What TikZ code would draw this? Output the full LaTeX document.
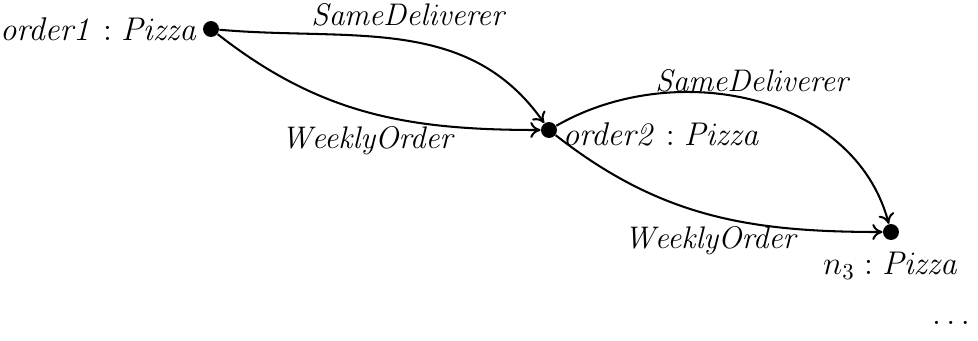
\RequirePackage{fix-cm}
\documentclass[tikz,border=0pt]{standalone}
\usetikzlibrary{arrows.meta}
\begin{document}
\begin{tikzpicture}[x=0.4386pt,y=-0.4386pt,
  obj/.style={circle,fill=black,inner sep=0pt,minimum size=7pt},
  rel/.style={-{Computer Modern Rightarrow[length=4.5pt,width=7pt]},line width=0.9pt},
  lbl/.style={font=\fontsize{14.4pt}{17pt}\selectfont},
  elbl/.style={font=\fontsize{13.7pt}{16pt}\selectfont}]
\useasboundingbox (0,0) rectangle (978,340);
% objects
\node[obj] (o1) at (211,29) {};
\node[obj] (o2) at (549,130) {};
\node[obj] (n3) at (891,232) {};
\node[lbl,anchor=east] at ([xshift=1.5pt]o1.west) {$\mathit{order1} : \mathit{Pizza}$};
\node[lbl,anchor=west] at ([xshift=-1.2pt,yshift=-2pt]o2.east) {$\mathit{order2} : \mathit{Pizza}$};
\node[lbl] at (891,266) {$n_3 : \mathit{Pizza}$};
\node[lbl] at (951,323) {$\ldots$};
% relations
\draw[rel] (o1) to[out=-5,in=125]
  node[pos=0.52,above=3pt,elbl] {$\mathit{SameDeliverer}$} (o2);
\draw[rel] (o1) to[out=-38,in=180]
  node[pos=0.5,below=2.5pt,elbl] {$\mathit{WeeklyOrder}$} (o2);
\draw[rel] (o2) to[out=30,in=105]
  node[pos=0.5,above=0pt,elbl] {$\mathit{SameDeliverer}$} (n3);
\draw[rel] (o2) to[out=-38,in=180]
  node[pos=0.51,below=1.5pt,elbl] {$\mathit{WeeklyOrder}$} (n3);
\end{tikzpicture}
\end{document}
